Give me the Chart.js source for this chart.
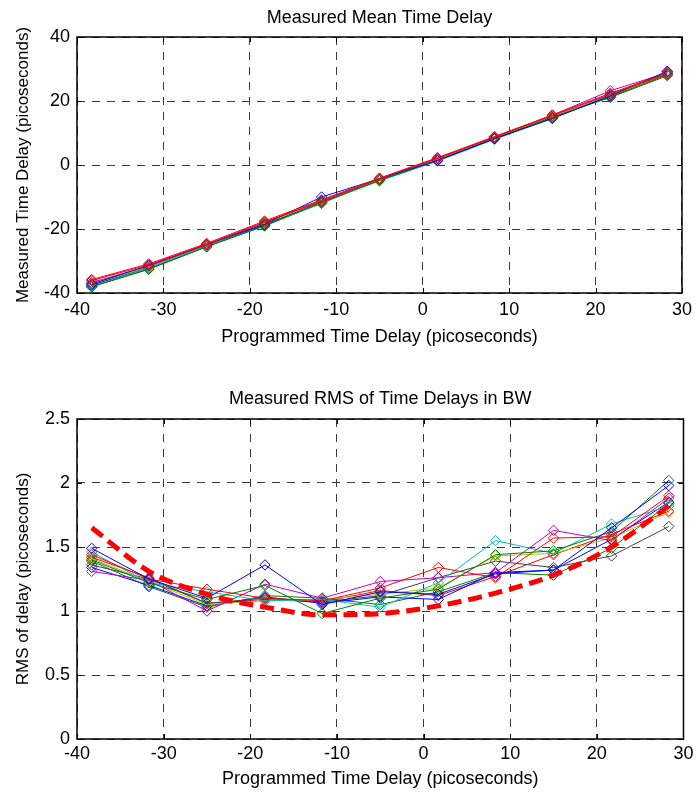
<!DOCTYPE html>
<html><head><meta charset="utf-8">
<script src="https://cdn.jsdelivr.net/npm/chart.js@4.4.0/dist/chart.umd.min.js"></script>
<style>
html,body{margin:0;padding:0;background:#fff;}
#wrap{position:relative;width:698px;height:794px;background:#fff;}
.c{position:absolute;left:0;width:698px;}
canvas{display:block;}
</style></head><body>
<div id="wrap">
<div class="c" style="top:0;height:380px"><canvas id="c1" width="698" height="380"></canvas></div>
<div class="c" style="top:380px;height:414px"><canvas id="c2" width="698" height="414"></canvas></div>
</div>
<script>
// ---------- data ----------
const programmedDelay = [-38.3, -31.7, -25, -18.3, -11.7, -5, 1.7, 8.3, 15, 21.7, 28.3];
const xTickValues = [-40, -30, -20, -10, 0, 10, 20, 30];
const meanTickValues = [-40, -20, 0, 20, 40];
const rmsTickValues = [0, 0.5, 1, 1.5, 2, 2.5];

const seriesColors = ['#0000FF', '#008000', '#FF0000', '#00BFBF', '#BF00BF', '#BFBF00', '#404040', '#0000FF', '#008000', '#FF0000'];

// Measured mean time delay (ps), one array per run
const mean1  = [-37.2, -31.4, -24.8, -18.5, -10.0, -4.3, 1.4, 8.2, 14.5, 21.6, 29.3];
const mean2  = [-38.1, -32.5, -25.6, -19.0, -11.7, -4.8, 1.4, 8.2, 14.8, 21.3, 28.2];
const mean3  = [-35.8, -30.9, -24.5, -17.5, -10.9, -4.1, 2.3, 8.9, 15.6, 22.4, 28.7];
const mean4  = [-37.9, -32.2, -25.4, -19.1, -11.8, -5.0, 1.2, 8.0, 14.6, 21.8, 29.1];
const mean5  = [-36.7, -31.6, -25.0, -18.0, -11.1, -4.4, 2.0, 8.7, 15.6, 23.2, 28.8];
const mean6  = [-37.1, -31.9, -25.1, -18.3, -11.3, -4.6, 1.8, 8.6, 15.2, 21.7, 28.2];
const mean7  = [-37.5, -32.2, -25.4, -18.6, -11.8, -4.6, 1.7, 8.5, 15.1, 21.1, 27.9];
const mean8  = [-37.6, -32.0, -25.2, -18.7, -11.5, -4.8, 1.6, 8.4, 14.8, 21.9, 29.1];
const mean9  = [-38.0, -32.6, -25.5, -18.9, -12.0, -4.5, 1.6, 8.5, 15.0, 21.6, 28.4];
const mean10 = [-36.1, -31.2, -24.8, -17.8, -11.4, -4.3, 2.1, 8.7, 15.4, 22.1, 28.5];

// Measured RMS of time delays (ps)
const rms1  = [1.49, 1.25, 1.10, 1.36, 1.05, 1.15, 1.13, 1.29, 1.32, 1.65, 1.98];
const rms2  = [1.40, 1.22, 1.09, 1.20, 0.98, 1.10, 1.17, 1.44, 1.47, 1.62, 2.02];
const rms3  = [1.44, 1.25, 1.17, 1.10, 1.08, 1.18, 1.34, 1.26, 1.57, 1.58, 1.90];
const rms4  = [1.46, 1.22, 1.15, 1.08, 1.09, 1.03, 1.22, 1.55, 1.45, 1.68, 1.82];
const rms5  = [1.31, 1.24, 1.00, 1.21, 1.10, 1.23, 1.26, 1.30, 1.63, 1.55, 1.88];
const rms6  = [1.41, 1.23, 1.05, 1.08, 1.09, 1.13, 1.18, 1.43, 1.45, 1.57, 1.77];
const rms7  = [1.36, 1.25, 1.06, 1.10, 1.07, 1.12, 1.26, 1.39, 1.34, 1.43, 1.66];
const rms8  = [1.34, 1.20, 1.04, 1.11, 1.06, 1.11, 1.09, 1.30, 1.32, 1.56, 1.85];
const rms9  = [1.39, 1.19, 1.03, 1.12, 1.10, 1.05, 1.15, 1.30, 1.28, 1.49, 1.84];
const rms10 = [1.42, 1.26, 1.06, 1.09, 1.07, 1.16, 1.12, 1.27, 1.44, 1.60, 1.78];
const rmsModel = [1.65, 1.31, 1.13, 1.03, 0.97, 0.98, 1.04, 1.14, 1.28, 1.50, 1.82];

const meanSeries = [mean1, mean2, mean3, mean4, mean5, mean6, mean7, mean8, mean9, mean10];
const rmsSeries = [rms1, rms2, rms3, rms4, rms5, rms6, rms7, rms8, rms9, rms10];

// ---------- helpers ----------
const FONT = '"Liberation Sans", Arial, Helvetica, sans-serif';
const toPts = arr => programmedDelay.map((x, i) => ({x: x, y: arr[i]}));

function runDataset(arr, i, topOrder) {
  const c = seriesColors[i];
  return {
    data: toPts(arr),
    borderColor: c,
    backgroundColor: 'rgba(0,0,0,0)',
    borderWidth: 1,
    pointStyle: 'rectRot',
    pointRadius: 5.2,
    pointBorderWidth: 1,
    pointBorderColor: c,
    pointBackgroundColor: 'rgba(0,0,0,0)',
    tension: 0,
    order: topOrder(i)
  };
}

const framePlugin = {
  id: 'frame',
  afterDraw(chart, args, opts) {
    const {ctx, chartArea: a} = chart;
    ctx.save();
    ctx.strokeStyle = '#000';
    ctx.lineWidth = 1.5;
    ctx.setLineDash([]);
    ctx.strokeRect(a.left, a.top, a.right - a.left, a.bottom - a.top);
    // inward tick marks
    ctx.lineWidth = 1;
    const xs = chart.scales.x, ys = chart.scales.y;
    ctx.beginPath();
    xs.ticks.forEach(t => {
      const p = Math.round(xs.getPixelForValue(t.value)) + 0.5;
      ctx.moveTo(p, a.bottom); ctx.lineTo(p, a.bottom - 5);
      ctx.moveTo(p, a.top); ctx.lineTo(p, a.top + 5);
    });
    ys.ticks.forEach(t => {
      const p = Math.round(ys.getPixelForValue(t.value)) + 0.5;
      ctx.moveTo(a.left, p); ctx.lineTo(a.left + 5, p);
      ctx.moveTo(a.right, p); ctx.lineTo(a.right - 5, p);
    });
    ctx.stroke();
    // title
    ctx.fillStyle = '#000';
    ctx.font = '18px ' + FONT;
    ctx.textAlign = 'center';
    ctx.textBaseline = 'middle';
    ctx.fillText(opts.text, (a.left + a.right) / 2, opts.y);
    ctx.restore();
  }
};

function makeOptions(cfg) {
  return {
    responsive: false,
    animation: false,
    events: [],
    layout: {padding: {top: cfg.top, right: 12, left: 0, bottom: 0}},
    plugins: {
      legend: {display: false},
      tooltip: {enabled: false},
      title: {display: false},
      frame: {text: cfg.title, y: cfg.titleY}
    },
    scales: {
      x: {
        type: 'linear',
        min: -40, max: 30,
        afterBuildTicks: s => { s.ticks = xTickValues.map(v => ({value: v})); },
        afterFit: s => { s.height = cfg.xHeight; },
        grid: {color: '#3a3a3a', lineWidth: 1, drawTicks: false},
        border: {display: false, dash: [8, 7]},
        ticks: {color: '#000', font: {family: FONT, size: 18}, padding: cfg.xTickPad, maxRotation: 0, autoSkip: false,
                callback: v => String(v)},
        title: {display: true, text: 'Programmed Time Delay (picoseconds)', color: '#000',
                font: {family: FONT, size: 18}, padding: {top: 0, bottom: cfg.xTitlePad}}
      },
      y: {
        type: 'linear',
        min: cfg.yMin, max: cfg.yMax,
        afterBuildTicks: s => { s.ticks = cfg.yTicks.map(v => ({value: v})); },
        afterFit: s => { s.width = 77; },
        grid: {color: '#3a3a3a', lineWidth: 1, drawTicks: false},
        border: {display: false, dash: [8, 7]},
        ticks: {color: '#000', font: {family: FONT, size: 18}, padding: 7, autoSkip: false,
                callback: v => String(v)},
        title: {display: true, text: cfg.yTitle, color: '#000',
                font: {family: FONT, size: 17}, padding: {top: 12.8, bottom: 0}}
      }
    }
  };
}

// ---------- top chart ----------
const topDatasets = meanSeries.map((arr, i) => runDataset(arr, i, k => (k === 2 || k === 9) ? 0 : 1 + k));
new Chart(document.getElementById('c1'), {
  type: 'line',
  data: {datasets: topDatasets},
  options: makeOptions({
    top: 37, xHeight: 87, xTickPad: 6, xTitlePad: 32.2,
    title: 'Measured Mean Time Delay', titleY: 18,
    yMin: -40, yMax: 40, yTicks: meanTickValues,
    yTitle: 'Measured Time Delay (picoseconds)'
  }),
  plugins: [framePlugin]
});

// ---------- bottom chart ----------
const bottomDatasets = rmsSeries.map((arr, i) => runDataset(arr, i, k => 1 + k));
bottomDatasets.push({
  data: toPts(rmsModel),
  borderColor: '#FF0000',
  backgroundColor: 'rgba(0,0,0,0)',
  borderWidth: 5,
  borderDash: [14, 7],
  pointRadius: 0,
  tension: 0.4,
  cubicInterpolationMode: 'monotone',
  order: 0
});
new Chart(document.getElementById('c2'), {
  type: 'line',
  data: {datasets: bottomDatasets},
  options: makeOptions({
    top: 39, xHeight: 55, xTickPad: 4.5, xTitlePad: 4.5,
    title: 'Measured RMS of Time Delays in BW', titleY: 19,
    yMin: 0, yMax: 2.5, yTicks: rmsTickValues,
    yTitle: 'RMS of delay (picoseconds)'
  }),
  plugins: [framePlugin]
});
</script>
</body></html>
